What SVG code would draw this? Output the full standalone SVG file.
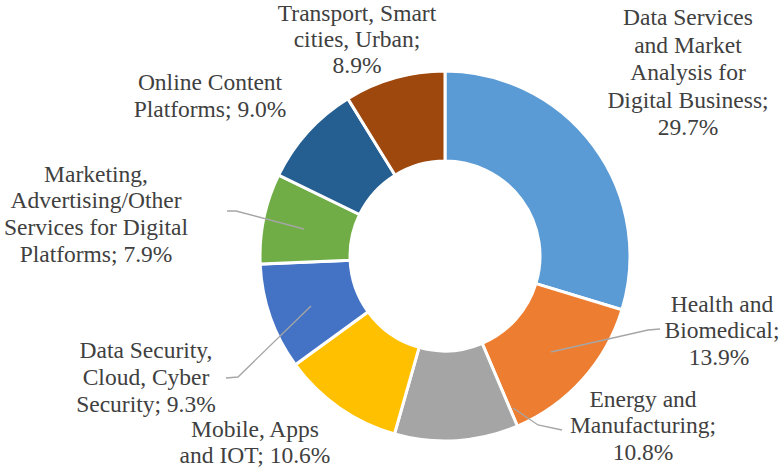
<svg xmlns="http://www.w3.org/2000/svg" width="779" height="470" viewBox="0 0 779 470">
<style>
.s{stroke:#fff;stroke-width:3;stroke-linejoin:miter}
.t{font-size:23.5px;fill:#404040;text-anchor:middle}
.l{fill:none;stroke:#a6a6a6;stroke-width:1.3}
</style>
<rect width="779" height="470" fill="#fff"/>
<g id="slice-data-services"><path class="s" fill="#5B9BD5" d="M445,71 A185,185 0 0 1 622,309.8 L535.9,283.6 A95,95 0 0 0 445,161 Z"/></g>
<g id="slice-health"><path class="s" fill="#ED7D31" d="M622,309.8 A185,185 0 0 1 517.4,426.2 L482.2,343.4 A95,95 0 0 0 535.9,283.6 Z"/></g>
<g id="slice-energy"><path class="s" fill="#A5A5A5" d="M517.4,426.2 A185,185 0 0 1 394.5,434 L419.1,347.4 A95,95 0 0 0 482.2,343.4 Z"/></g>
<g id="slice-mobile"><path class="s" fill="#FFC000" d="M394.5,434 A185,185 0 0 1 295.3,364.7 L368.1,311.8 A95,95 0 0 0 419.1,347.4 Z"/></g>
<g id="slice-security"><path class="s" fill="#4472C4" d="M295.3,364.7 A185,185 0 0 1 260.2,264.1 L350.1,260.2 A95,95 0 0 0 368.1,311.8 Z"/></g>
<g id="slice-marketing"><path class="s" fill="#70AD47" d="M260.2,264.1 A185,185 0 0 1 278.6,175.1 L359.6,214.5 A95,95 0 0 0 350.1,260.2 Z"/></g>
<g id="slice-online"><path class="s" fill="#255E91" d="M278.6,175.1 A185,185 0 0 1 347.8,98.6 L395.1,175.2 A95,95 0 0 0 359.6,214.5 Z"/></g>
<g id="slice-transport"><path class="s" fill="#9E480E" d="M347.8,98.6 A185,185 0 0 1 445,71 L445,161 A95,95 0 0 0 395.1,175.2 Z"/></g>
<g id="connectors">
<polyline class="l" points="227,211 236,211 304,229"/>
<polyline class="l" points="226,378 238,377 311,306"/>
<polyline class="l" points="660,329 648,330 551,352"/>
<polyline class="l" points="513,408 538,425 562,430"/>
</g>
<g id="labels" font-family="'Liberation Serif', 'Times New Roman', serif">
<g id="label-data-services"><text class="t" x="688" y="25">Data Services</text><text class="t" x="688" y="53">and Market</text><text class="t" x="688" y="80">Analysis for</text><text class="t" x="688" y="108">Digital  Business;</text><text class="t" x="688" y="135">29.7%</text></g>
<g id="label-transport"><text class="t" x="357" y="21">Transport, Smart</text><text class="t" x="357" y="47">cities, Urban;</text><text class="t" x="357" y="73">8.9%</text></g>
<g id="label-online"><text class="t" x="210" y="90">Online Content</text><text class="t" x="210" y="117">Platforms; 9.0%</text></g>
<g id="label-marketing"><text class="t" x="96" y="182">Marketing,</text><text class="t" x="96" y="208">Advertising/Other</text><text class="t" x="96" y="235">Services for Digital</text><text class="t" x="96" y="262">Platforms; 7.9%</text></g>
<g id="label-security"><text class="t" x="146" y="358">Data Security,</text><text class="t" x="146" y="385">Cloud, Cyber</text><text class="t" x="146" y="412">Security; 9.3%</text></g>
<g id="label-mobile"><text class="t" x="255" y="437">Mobile, Apps</text><text class="t" x="255" y="463">and IOT; 10.6%</text></g>
<g id="label-health"><text class="t" x="722" y="312">Health and</text><text class="t" x="722" y="338">Biomedical;</text><text class="t" x="719" y="365">13.9%</text></g>
<g id="label-energy"><text class="t" x="643" y="407">Energy and</text><text class="t" x="643" y="433">Manufacturing;</text><text class="t" x="643" y="460">10.8%</text></g>
</g>
</svg>
